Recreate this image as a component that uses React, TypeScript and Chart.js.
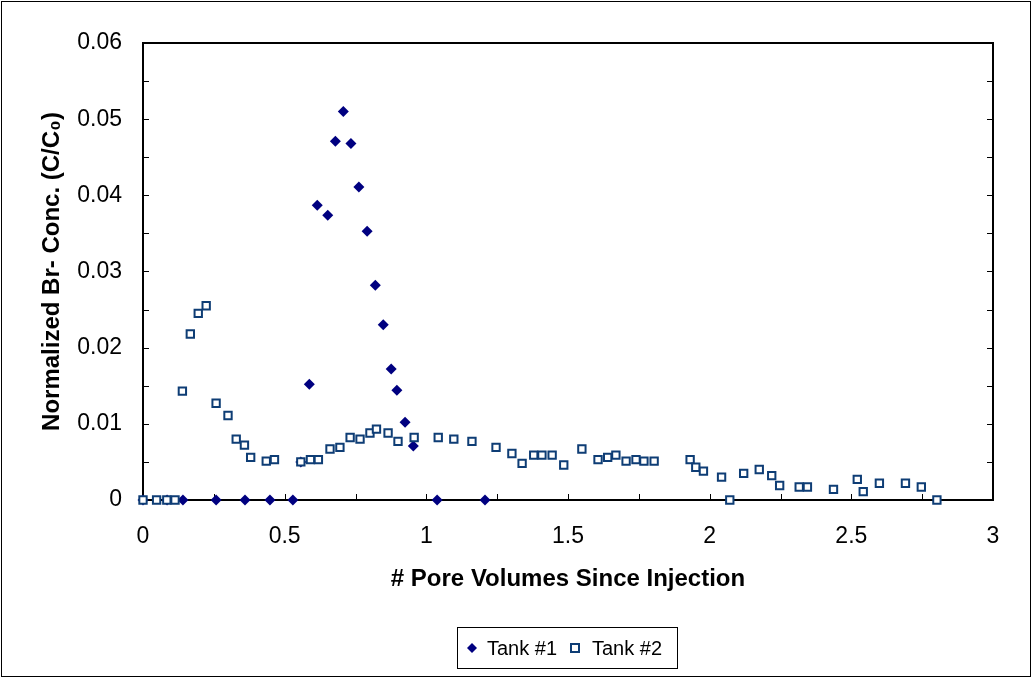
import React, { useEffect, useRef } from "react";
import { Chart, registerables } from "chart.js";

Chart.register(...registerables);

const tank1X = [0, 0.085, 0.141, 0.258, 0.36, 0.448, 0.529, 0.557, 0.587, 0.615, 0.652, 0.679, 0.707, 0.734, 0.762, 0.791, 0.82, 0.848, 0.876, 0.896, 0.925, 0.954, 1.038, 1.207];
const tank1Y = [0, 0, 0, 0, 0, 0, 0, 0.005, 0.0152, 0.0387, 0.0374, 0.0471, 0.051, 0.0468, 0.0411, 0.0353, 0.0282, 0.023, 0.0172, 0.0144, 0.0102, 0.0071, 0, 0];

const tank2X = [0, 0.048, 0.084, 0.113, 0.139, 0.167, 0.195, 0.223, 0.258, 0.3, 0.329, 0.358, 0.38, 0.435, 0.464, 0.557, 0.591, 0.619, 0.66, 0.695, 0.731, 0.766, 0.801, 0.824, 0.865, 0.9, 0.957, 1.042, 1.097, 1.161, 1.246, 1.302, 1.338, 1.379, 1.408, 1.444, 1.485, 1.549, 1.606, 1.64, 1.669, 1.705, 1.74, 1.768, 1.804, 1.931, 1.951, 1.978, 2.042, 2.071, 2.12, 2.175, 2.219, 2.247, 2.316, 2.345, 2.437, 2.521, 2.542, 2.599, 2.691, 2.747, 2.802];
const tank2Y = [0, 0, 0, 0, 0.0143, 0.0218, 0.0245, 0.0255, 0.0127, 0.0111, 0.008, 0.0072, 0.0056, 0.0051, 0.0053, 0.005, 0.0053, 0.0053, 0.0067, 0.0069, 0.0082, 0.008, 0.0088, 0.0093, 0.0088, 0.0077, 0.0082, 0.0082, 0.008, 0.0077, 0.0069, 0.0061, 0.0048, 0.0059, 0.0059, 0.0059, 0.0046, 0.0067, 0.0053, 0.0056, 0.0059, 0.0051, 0.0053, 0.0051, 0.0051, 0.0053, 0.0043, 0.0038, 0.003, 0, 0.0035, 0.004, 0.0032, 0.0019, 0.0017, 0.0017, 0.0014, 0.0027, 0.0011, 0.0022, 0.0022, 0.0017, 0];

const seriesNames = ["Tank #1", "Tank #2"];
const xTickLabels = ["0", "0.5", "1", "1.5", "2", "2.5", "3"];
const yTickLabels = ["0", "0.01", "0.02", "0.03", "0.04", "0.05", "0.06"];
const xTitle = "# Pore Volumes Since Injection";
const yTitle = "Normalized Br- Conc. (C/C\u2080)";

const FONT = "'Liberation Sans', Arial, sans-serif";
const C1 = "#000080";
const C2 = "#0E3D75";

const framePlugin = {
  id: "frame",
  beforeDatasetsDraw(chart: any) {
    const { ctx, chartArea } = chart;
    const { left, right, top, bottom } = chartArea;
    const xs = chart.scales.x;
    const ys = chart.scales.y;
    ctx.save();
    ctx.strokeStyle = "#000";
    ctx.lineWidth = 1;
    // inside ticks
    ctx.beginPath();
    for (let v = 0.005; v < 0.06 - 1e-9; v += 0.005) {
      const py = Math.round(ys.getPixelForValue(v)) + 0.5;
      ctx.moveTo(left, py);
      ctx.lineTo(left + 6, py);
      ctx.moveTo(right, py);
      ctx.lineTo(right - 6, py);
    }
    for (let v = 0.25; v < 3 - 1e-9; v += 0.25) {
      const px = Math.round(xs.getPixelForValue(v)) + 0.5;
      ctx.moveTo(px, bottom);
      ctx.lineTo(px, bottom - 6);
    }
    ctx.stroke();
    ctx.lineWidth = 2;
    ctx.strokeRect(left, top, right - left, bottom - top);
    ctx.restore();
  },
  afterDraw(chart: any) {
    const { ctx } = chart;
    ctx.save();
    // outer border
    ctx.strokeStyle = "#000";
    ctx.lineWidth = 1;
    ctx.strokeRect(1.5, 1.5, 1029, 675);
    // legend
    ctx.strokeRect(457.5, 627.5, 220, 41);
    const cy = 648;
    // diamond
    ctx.fillStyle = C1;
    ctx.beginPath();
    const r = 5;
    ctx.moveTo(472 - r, cy);
    ctx.lineTo(472, cy - r);
    ctx.lineTo(472 + r, cy);
    ctx.lineTo(472, cy + r);
    ctx.closePath();
    ctx.fill();
    // square
    ctx.fillStyle = "#fff";
    ctx.strokeStyle = C2;
    ctx.lineWidth = 2;
    ctx.fillRect(571, cy - 4, 8, 8);
    ctx.strokeRect(571, cy - 4, 8, 8);
    ctx.fillStyle = "#000";
    ctx.font = `20px ${FONT}`;
    ctx.textBaseline = "middle";
    ctx.textAlign = "left";
    ctx.fillText(seriesNames[0], 487, cy + 1);
    ctx.fillText(seriesNames[1], 592, cy + 1);
    ctx.restore();
  },
};

export default function App() {
  const ref = useRef<HTMLCanvasElement>(null);
  useEffect(() => {
    document.body.style.margin = "0";
    document.body.style.overflow = "hidden";
    const canvas = ref.current!;
    const chart = new Chart(canvas, {
      type: "scatter",
      data: {
        datasets: [
          {
            label: seriesNames[0],
            data: tank1X.map((x, i) => ({ x, y: tank1Y[i] })),
            pointStyle: "rectRot",
            pointRadius: 5.5,
            pointBackgroundColor: C1,
            pointBorderColor: C1,
            pointBorderWidth: 0,
            showLine: false,
            clip: false,
            order: 1,
          },
          {
            label: seriesNames[1],
            data: tank2X.map((x, i) => ({ x, y: tank2Y[i] })),
            pointStyle: "rect",
            pointRadius: 5.2,
            pointBackgroundColor: "#fff",
            pointBorderColor: C2,
            pointBorderWidth: 2,
            showLine: false,
            clip: false,
            order: 0,
          },
        ],
      },
      options: {
        animation: false,
        responsive: false,
        devicePixelRatio: 1,
        layout: { padding: { left: 0, top: 43, right: 39, bottom: 85 } },
        plugins: { legend: { display: false }, tooltip: { enabled: false } },
        scales: {
          x: {
            type: "linear",
            min: 0,
            max: 3,
            afterFit: (s: any) => { s.height = 94; },
            grid: { display: false, drawTicks: false, tickLength: 0 },
            border: { display: false },
            ticks: {
              stepSize: 0.5,
              padding: 23,
              color: "#000",
              font: { family: FONT, size: 23 },
              maxRotation: 0,
              callback: (v: any, i: number) => xTickLabels[i],
            },
            title: {
              display: true,
              text: xTitle,
              color: "#000",
              font: { family: FONT, size: 24, weight: "bold" },
              padding: 0,
            },
          },
          y: {
            type: "linear",
            min: 0,
            max: 0.06,
            afterFit: (s: any) => { s.width = 143; },
            grid: { display: false, drawTicks: false, tickLength: 0 },
            border: { display: false },
            ticks: {
              stepSize: 0.01,
              padding: 21,
              color: "#000",
              font: { family: FONT, size: 23 },
              callback: (v: any, i: number) => yTickLabels[i],
            },
            title: {
              display: true,
              text: yTitle,
              color: "#000",
              font: { family: FONT, size: 24, weight: "bold" },
              padding: { top: 38, bottom: 0 },
            },
          },
        },
      },
      plugins: [framePlugin],
    });
    return () => chart.destroy();
  }, []);
  return (
    <div style={{ width: 1032, height: 679, position: "relative", background: "#fff" }}>
      <canvas ref={ref} width={1032} height={679} style={{ display: "block" }} />
    </div>
  );
}
